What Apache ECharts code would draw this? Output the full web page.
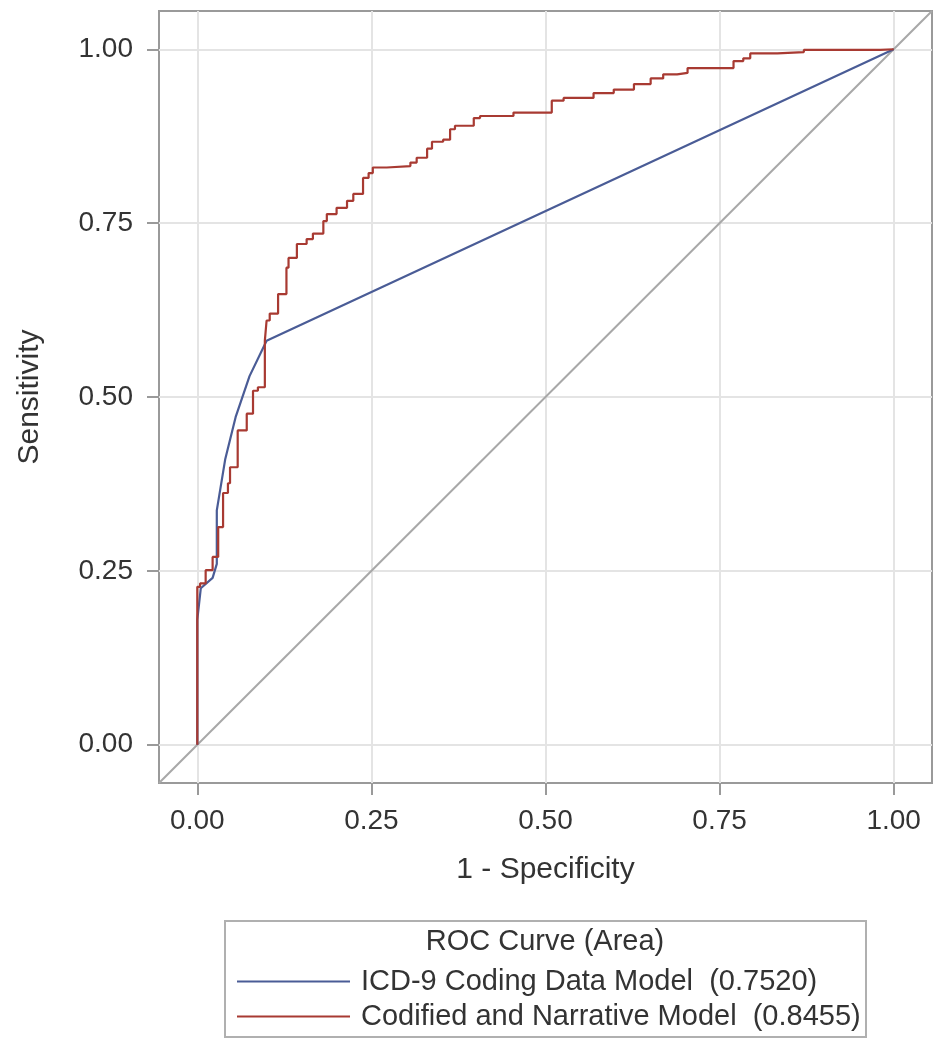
<!DOCTYPE html>
<html>
<head>
<meta charset="utf-8">
<script src="https://cdn.jsdelivr.net/npm/echarts@6/dist/echarts.min.js"></script>
<style>
html,body{margin:0;padding:0;background:#fff;}
#chart{width:943px;height:1050px;}
</style>
</head>
<body>
<div id="chart"></div>
<script>
// Tick values / labels
const tickValues = [0, 0.25, 0.5, 0.75, 1];
const axisMin = -0.055;
const axisMax = 1.055;

// ICD-9 Coding Data Model (AUC 0.7520)
const icdX = [0, 0, 0.005, 0.022, 0.028, 0.028, 0.04, 0.055, 0.075, 0.0995, 1.0];
const icdY = [0, 0.18, 0.225, 0.24, 0.26, 0.337, 0.41, 0.471, 0.53, 0.581, 1.0];

// Codified and Narrative Model (AUC 0.8455)
const cnmX = [0, 0, 0.004, 0.012, 0.022, 0.030, 0.037, 0.044, 0.047, 0.058, 0.071, 0.080, 0.087, 0.097, 0.0995, 0.104, 0.116, 0.128, 0.131, 0.143, 0.157, 0.166, 0.181, 0.186, 0.200, 0.215, 0.224, 0.238, 0.246, 0.252, 0.272, 0.306, 0.315, 0.330, 0.337, 0.353, 0.363, 0.370, 0.397, 0.406, 0.454, 0.483, 0.509, 0.526, 0.569, 0.598, 0.627, 0.651, 0.669, 0.689, 0.704, 0.711, 0.770, 0.784, 0.794, 0.833, 0.871, 0.878, 0.981, 1.0];
const cnmY = [0, 0.179, 0.227, 0.232, 0.251, 0.270, 0.313, 0.362, 0.376, 0.399, 0.452, 0.476, 0.509, 0.514, 0.581, 0.610, 0.620, 0.648, 0.686, 0.700, 0.720, 0.727, 0.735, 0.753, 0.763, 0.772, 0.782, 0.792, 0.815, 0.822, 0.830, 0.832, 0.837, 0.844, 0.857, 0.867, 0.870, 0.885, 0.890, 0.901, 0.904, 0.909, 0.909, 0.926, 0.930, 0.937, 0.942, 0.950, 0.958, 0.964, 0.966, 0.973, 0.973, 0.983, 0.987, 0.994, 0.996, 0.999, 0.999, 1.0];

// Chance diagonal
const diagX = [-0.055, 1.055];
const diagY = [-0.055, 1.055];

const seriesNames = ['ICD-9 Coding Data Model  (0.7520)', 'Codified and Narrative Model  (0.8455)'];
const legendTitle = 'ROC Curve (Area)';
const xTitle = '1 - Specificity';
const yTitle = 'Sensitivity';

const zip = (xs, ys) => xs.map((x, i) => [x, ys[i]]);
const FONT = '"Liberation Sans", Arial, sans-serif';
const fmt = v => v.toFixed(2);

const axisCommon = {
  type: 'value',
  min: axisMin,
  max: axisMax,
  axisLine: { show: false, onZero: false },
  axisTick: { show: true, inside: false, length: 12, customValues: tickValues, lineStyle: { color: '#9a9a9a', width: 2 } },
  axisLabel: { customValues: tickValues, formatter: fmt, fontFamily: FONT, fontSize: 28, color: '#333' },
  splitLine: { show: true, lineStyle: { color: '#e4e4e4', width: 2 } },
  nameLocation: 'middle',
  nameTextStyle: { fontFamily: FONT, fontSize: 30, color: '#333' }
};

const chart = echarts.init(document.getElementById('chart'), null, { renderer: 'canvas' });
chart.setOption({
  animation: false,
  backgroundColor: '#fff',
  grid: { left: 159, right: 11, top: 11, bottom: 267, show: true, borderColor: '#9a9a9a', borderWidth: 2, backgroundColor: 'transparent' },
  xAxis: Object.assign({}, axisCommon, {
    name: xTitle, nameGap: 72,
    axisLabel: Object.assign({}, axisCommon.axisLabel, { margin: 24 })
  }),
  yAxis: Object.assign({}, axisCommon, {
    name: yTitle, nameGap: 114,
    axisLabel: Object.assign({}, axisCommon.axisLabel, { margin: 26 })
  }),
  legend: {
    data: seriesNames,
    orient: 'vertical',
    left: 232, top: 961,
    icon: 'rect', itemWidth: 113, itemHeight: 2, itemGap: 4,
    textStyle: { fontFamily: FONT, fontSize: 29, color: '#333', lineHeight: 31, padding: [0, 0, 0, 6] }
  },
  graphic: [
    { type: 'rect', shape: { x: 225, y: 921, width: 641, height: 116 }, style: { fill: 'none', stroke: '#b0b0b0', lineWidth: 2 } },
    { type: 'text', x: 545, y: 942, style: { text: legendTitle, font: '29px "Liberation Sans", Arial, sans-serif', fill: '#333', textAlign: 'center', textVerticalAlign: 'middle' } }
  ],
  series: [
    { name: 'diag', type: 'line', data: zip(diagX, diagY), showSymbol: false, silent: true,
      lineStyle: { color: '#a8a8a8', width: 2 }, z: 1 },
    { name: seriesNames[0], type: 'line', data: zip(icdX, icdY), showSymbol: false,
      lineStyle: { color: '#4a5c96', width: 2.2 }, itemStyle: { color: '#4a5c96' }, z: 2 },
    { name: seriesNames[1], type: 'line', data: zip(cnmX, cnmY), showSymbol: false, step: 'start',
      lineStyle: { color: '#a83a32', width: 2.2 }, itemStyle: { color: '#a83a32' }, z: 3 }
  ]
});
</script>
</body>
</html>
